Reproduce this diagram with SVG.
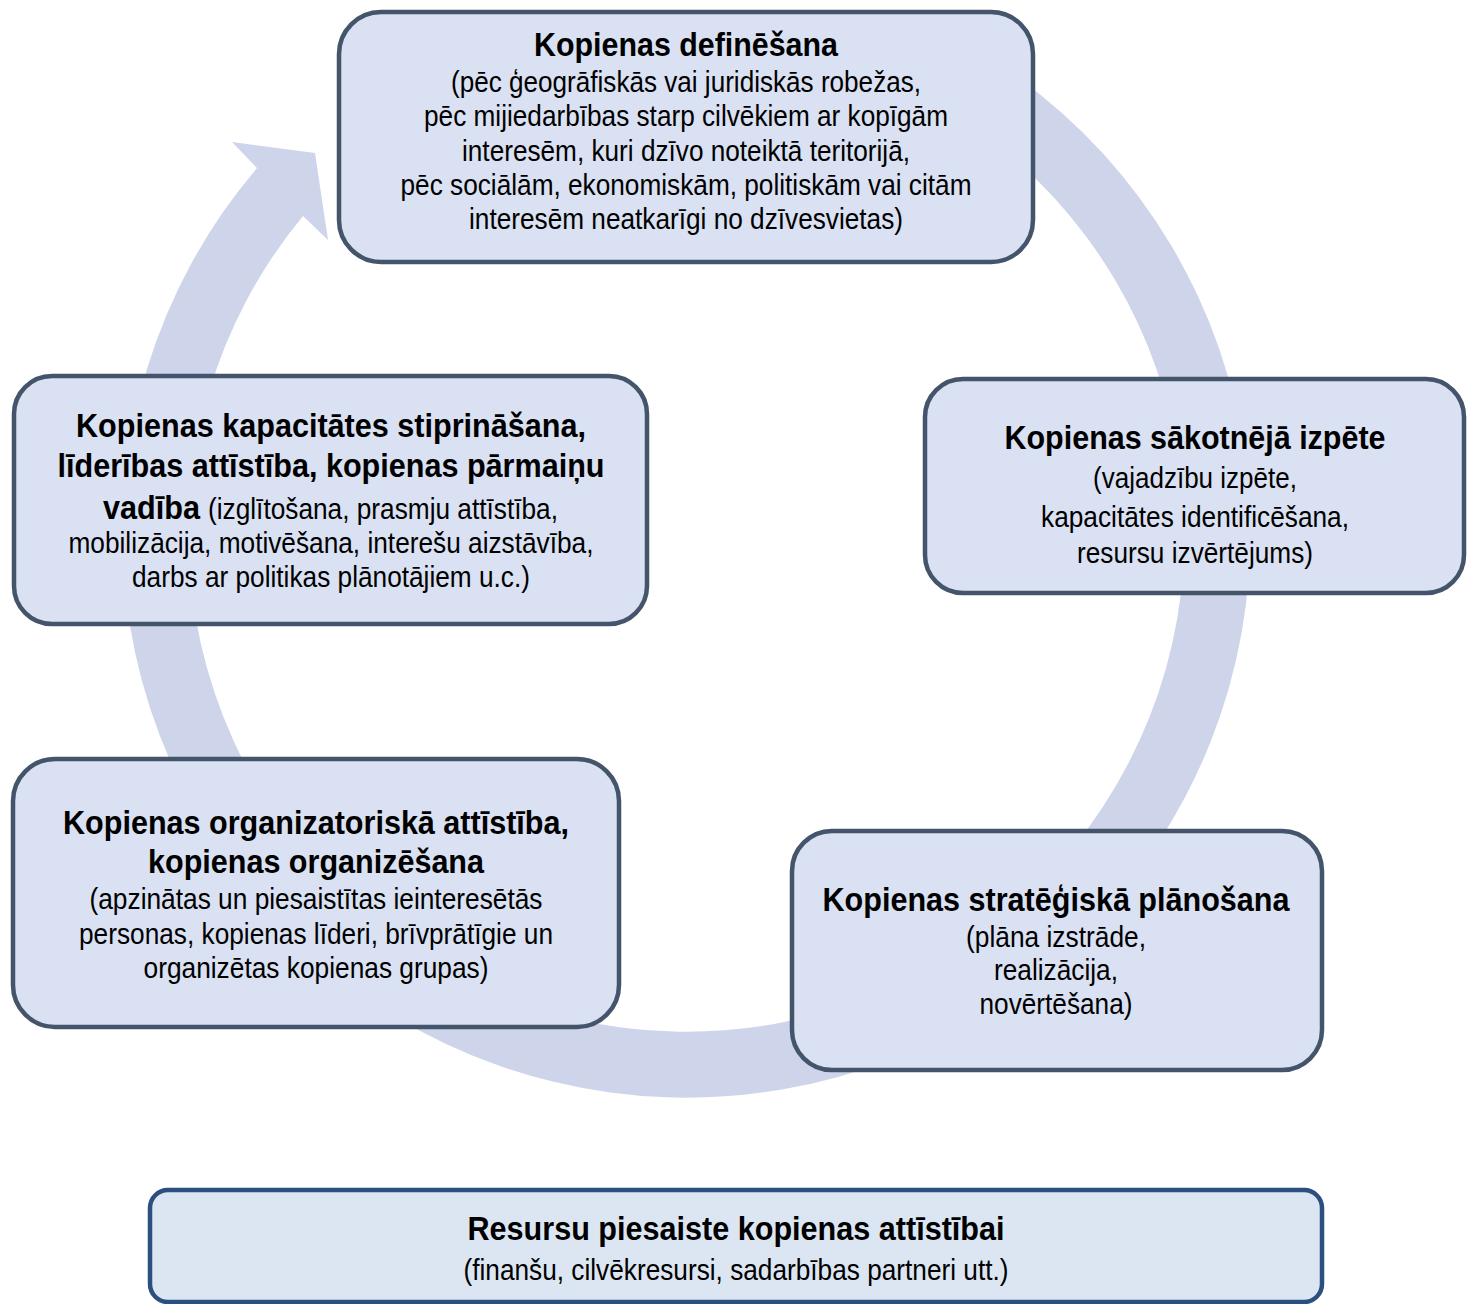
<svg xmlns="http://www.w3.org/2000/svg" width="1468" height="1304" viewBox="0 0 1468 1304">
<style>
.box{fill:#D9E1F2;stroke:#44546A;stroke-width:4.5}
.box2{fill:#DCE6F2;stroke:#2B4F7E;stroke-width:4.5}
.t{font-family:"Liberation Sans Narrow","Liberation Sans",Arial,sans-serif;fill:#000;text-anchor:middle}
.b{font-weight:bold;font-size:34px}
.r{font-size:29.5px}
</style>
<rect width="1468" height="1304" fill="#FFFFFF"/>
<g id="connectors">
<path id="cycle-arrow" d="M 936,102.7 L 969,45.6 A 564 564 0 1 1 257,168 L 232,142 L 315,153 L 328,240 L 303,216 A 498 498 0 1 0 936,102.7 Z" fill="#CED4EA"/>
</g>
<g id="node-definesana">
<rect class="box" x="339" y="12" width="694" height="250" rx="42"/>
<text class="t b" x="686" y="56" textLength="304" lengthAdjust="spacingAndGlyphs">Kopienas definēšana</text>
<text class="t r" x="686" y="92" textLength="470" lengthAdjust="spacingAndGlyphs">(pēc ģeogrāfiskās vai juridiskās robežas,</text>
<text class="t r" x="686" y="126" textLength="524" lengthAdjust="spacingAndGlyphs">pēc mijiedarbības starp cilvēkiem ar kopīgām</text>
<text class="t r" x="686" y="161" textLength="448" lengthAdjust="spacingAndGlyphs">interesēm, kuri dzīvo noteiktā teritorijā,</text>
<text class="t r" x="686" y="195" textLength="571" lengthAdjust="spacingAndGlyphs">pēc sociālām, ekonomiskām, politiskām vai citām</text>
<text class="t r" x="686" y="229" textLength="434" lengthAdjust="spacingAndGlyphs">interesēm neatkarīgi no dzīvesvietas)</text>
</g>
<g id="node-izpete">
<rect class="box" x="925" y="379" width="539" height="214" rx="38"/>
<text class="t b" x="1195" y="449" textLength="381" lengthAdjust="spacingAndGlyphs">Kopienas sākotnējā izpēte</text>
<text class="t r" x="1195" y="488" textLength="204" lengthAdjust="spacingAndGlyphs">(vajadzību izpēte,</text>
<text class="t r" x="1195" y="527" textLength="308" lengthAdjust="spacingAndGlyphs">kapacitātes identificēšana,</text>
<text class="t r" x="1195" y="563" textLength="236" lengthAdjust="spacingAndGlyphs">resursu izvērtējums)</text>
</g>
<g id="node-planosana">
<rect class="box" x="792" y="831" width="530" height="239" rx="40"/>
<text class="t b" x="1056" y="911" textLength="467" lengthAdjust="spacingAndGlyphs">Kopienas stratēģiskā plānošana</text>
<text class="t r" x="1056" y="947" textLength="180" lengthAdjust="spacingAndGlyphs">(plāna izstrāde,</text>
<text class="t r" x="1056" y="980" textLength="124" lengthAdjust="spacingAndGlyphs">realizācija,</text>
<text class="t r" x="1056" y="1014" textLength="153" lengthAdjust="spacingAndGlyphs">novērtēšana)</text>
</g>
<g id="node-organizesana">
<rect class="box" x="13" y="759" width="606" height="268" rx="42"/>
<text class="t b" x="316" y="834" textLength="506" lengthAdjust="spacingAndGlyphs">Kopienas organizatoriskā attīstība,</text>
<text class="t b" x="316" y="873" textLength="336" lengthAdjust="spacingAndGlyphs">kopienas organizēšana</text>
<text class="t r" x="316" y="909" textLength="453" lengthAdjust="spacingAndGlyphs">(apzinātas un piesaistītas ieinteresētās</text>
<text class="t r" x="316" y="944" textLength="474" lengthAdjust="spacingAndGlyphs">personas, kopienas līderi, brīvprātīgie un</text>
<text class="t r" x="316" y="978" textLength="345" lengthAdjust="spacingAndGlyphs">organizētas kopienas grupas)</text>
</g>
<g id="node-kapacitate">
<rect class="box" x="14" y="376" width="633" height="248" rx="38"/>
<text class="t b" x="331" y="437" textLength="510" lengthAdjust="spacingAndGlyphs">Kopienas kapacitātes stiprināšana,</text>
<text class="t b" x="331" y="477" textLength="547" lengthAdjust="spacingAndGlyphs">līderības attīstība, kopienas pārmaiņu</text>
<text class="t b" x="103" y="519" style="text-anchor:start" textLength="97" lengthAdjust="spacingAndGlyphs">vadība</text>
<text class="t r" x="208" y="519" style="text-anchor:start" textLength="350" lengthAdjust="spacingAndGlyphs">(izglītošana, prasmju attīstība,</text>
<text class="t r" x="331" y="553" textLength="525" lengthAdjust="spacingAndGlyphs">mobilizācija, motivēšana, interešu aizstāvība,</text>
<text class="t r" x="331" y="587" textLength="398" lengthAdjust="spacingAndGlyphs">darbs ar politikas plānotājiem u.c.)</text>
</g>
<g id="node-resursi">
<rect class="box2" x="150" y="1190" width="1172" height="112" rx="18"/>
<text class="t b" x="736" y="1240" textLength="537" lengthAdjust="spacingAndGlyphs">Resursu piesaiste kopienas attīstībai</text>
<text class="t r" x="736" y="1280" textLength="545" lengthAdjust="spacingAndGlyphs">(finanšu, cilvēkresursi, sadarbības partneri utt.)</text>
</g>
</svg>
